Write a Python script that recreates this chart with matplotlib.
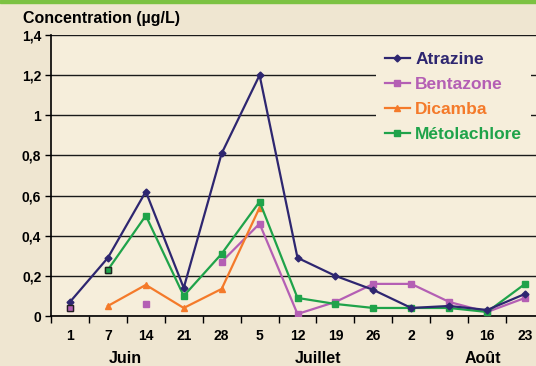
import numpy as np
import matplotlib
matplotlib.use("Agg")
import matplotlib.pyplot as plt

nan = np.nan
dates = ["1", "7", "14", "21", "28", "5", "12", "19", "26", "2", "9", "16", "23"]
months = ["Juin", "Juillet", "Août"]
month_pos = [1.47, 6.55, 10.9]

atrazine = [0.07, 0.29, 0.62, 0.14, 0.81, 1.20, 0.29, 0.20, 0.13, 0.04, 0.05, 0.03, 0.11]
bentazone = [0.04, nan, 0.06, nan, 0.27, 0.46, 0.01, 0.07, 0.16, 0.16, 0.07, 0.02, 0.09]
dicamba = [nan, 0.05, 0.155, 0.04, 0.135, 0.54, nan, nan, nan, nan, nan, nan, nan]
metolachlore = [nan, 0.23, 0.50, 0.10, 0.31, 0.57, 0.09, 0.06, 0.04, 0.04, 0.04, 0.02, 0.16]

c_atr = "#2e2670"
c_ben = "#b45fb4"
c_dic = "#f47a2a"
c_met = "#1fa34a"

plt.rcParams['font.family'] = ['Liberation Sans', 'DejaVu Sans']
plt.rcParams['font.weight'] = 'bold'

W, H = 536, 366
fig = plt.figure(figsize=(W / 100, H / 100), dpi=100)
fig.patch.set_facecolor("#efe6d1")
# top green bar
fig.add_artist(plt.Rectangle((0, 1 - 3 / H), 1, 3 / H, transform=fig.transFigure,
                             color="#7cc242", zorder=0))

ax = fig.add_axes([51 / W, 1 - 316 / H, (544 - 51) / W, (316 - 35) / H])
ax.set_facecolor("#f6eedb")
x = np.arange(len(dates))

ax.set_ylim(0, 1.4)
ax.set_xlim(-0.5, len(dates) - 0.5)
ax.set_yticks(np.arange(0, 1.41, 0.2))
ax.set_yticklabels(["0", "0,2", "0,4", "0,6", "0,8", "1", "1,2", "1,4"], fontsize=10, fontweight='bold')
ax.yaxis.grid(True, color="#1a1a1a", linewidth=1.0)
ax.set_axisbelow(True)

ax.set_xticks(x)
ax.set_xticklabels(dates, fontsize=10, fontweight='bold')
ax.set_xticks(np.arange(-0.5, len(dates), 1), minor=True)
ax.tick_params(axis='x', which='major', length=0, pad=9)
ax.tick_params(axis='x', which='minor', length=5, width=1, direction='out')
ax.tick_params(axis='y', length=4, width=1, direction='out', pad=3)
for s in ['right', 'top']:
    ax.spines[s].set_visible(False)
for s in ['left', 'bottom']:
    ax.spines[s].set_linewidth(1.2)

ax.plot(x, atrazine, color=c_atr, lw=1.6, marker='D', ms=3.5, label="Atrazine", zorder=5)
ax.plot(x, bentazone, color=c_ben, lw=1.6, marker='s', ms=4.5, label="Bentazone", zorder=3)
ax.plot(x, dicamba, color=c_dic, lw=1.6, marker='^', ms=4.5, label="Dicamba", zorder=3)
ax.plot(x, metolachlore, color=c_met, lw=1.6, marker='s', ms=4.5, label="Métolachlore", zorder=4)
# isolated points drawn with a dark edge
ax.plot(x[0], bentazone[0], ls='none', marker='s', ms=5, color=c_ben, mec="#222222", mew=1, zorder=6)
ax.plot(x[1], metolachlore[1], ls='none', marker='s', ms=5, color=c_met, mec="#222222", mew=1, zorder=6)

for lab, p in zip(months, month_pos):
    ax.text(p, -0.21, lab, ha='center', va='center', fontsize=11.5, fontweight='bold',
            transform=ax.transData, clip_on=False)

fig.text(23 / W, 1 - 19 / H, "Concentration (µg/L)", ha='left', va='center',
         fontsize=11.5, fontweight='bold')

leg = ax.legend(loc='upper left', bbox_to_anchor=(376 / W, 1 - 43 / H),
                bbox_transform=fig.transFigure, frameon=True, fancybox=False,
                facecolor="#f6eedb", edgecolor="none", framealpha=1,
                prop={'size': 12.5, 'weight': 'bold'}, handlelength=1.45,
                handletextpad=0.3, labelspacing=0.58, borderpad=0.5, borderaxespad=0)
for t, c in zip(leg.get_texts(), [c_atr, c_ben, c_dic, c_met]):
    t.set_color(c)

fig.savefig("out.png", dpi=100, facecolor=fig.get_facecolor())
